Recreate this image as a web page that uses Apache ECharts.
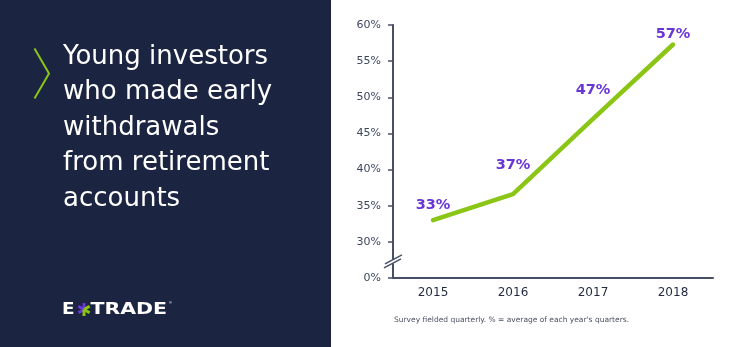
<!DOCTYPE html>
<html>
<head>
<meta charset="utf-8">
<script src="https://cdn.jsdelivr.net/npm/echarts@6/dist/echarts.min.js"></script>
<style>
html,body{margin:0;padding:0;background:#fff;}
#c{width:742px;height:347px;}
</style>
</head>
<body>
<div id="c"></div>
<script>
// ---- data ----
var years = ['2015', '2016', '2017', '2018'];
var withdrawalPct = [33, 36.6, 47, 57.3];
var yTickValues = [25, 30, 35, 40, 45, 50, 55, 60];
var yTickLabels = ['0%', '30%', '35%', '40%', '45%', '50%', '55%', '60%'];
var titleLines = ['Young investors', 'who made early', 'withdrawals', 'from retirement', 'accounts'];
var footnote = "Survey fielded quarterly. % = average of each year's quarters.";

// ---- styles ----
var NAVY = '#1b2440';
var GREEN = '#8bc516';
var PURPLE = '#6a35d6';
var AXIS = '#474f66';
var labelDistances = [7, 21, 21, 2];

var chart = echarts.init(document.getElementById('c'), null, {renderer: 'canvas'});

var seriesData = withdrawalPct.map(function (v, i) {
  return {value: v, label: {distance: labelDistances[i]}};
});

var option = {
  animation: false,
  backgroundColor: '#ffffff',
  grid: {left: 393, right: 29, top: 25, bottom: 69},
  xAxis: {
    type: 'category',
    data: years,
    boundaryGap: true,
    axisLine: {lineStyle: {color: AXIS, width: 2}},
    axisTick: {alignWithLabel: true, length: 5, lineStyle: {color: AXIS, width: 1.5}},
    axisLabel: {color: '#1f2940', fontFamily: 'DejaVu Sans', fontSize: 12, margin: 9}
  },
  yAxis: {
    type: 'value',
    min: yTickValues[0],
    max: yTickValues[yTickValues.length - 1],
    interval: 5,
    splitLine: {show: false},
    axisLine: {show: true, lineStyle: {color: AXIS, width: 2}},
    axisTick: {show: true, length: 5, lineStyle: {color: AXIS, width: 1.5}},
    axisLabel: {
      color: '#3e475e', fontFamily: 'DejaVu Sans', fontSize: 11, margin: 12,
      formatter: function (v) {
        var i = yTickValues.indexOf(v);
        return i >= 0 ? yTickLabels[i] : '';
      }
    }
  },
  series: [{
    type: 'line',
    data: seriesData,
    symbol: 'circle',
    symbolSize: 1,
    showSymbol: true,
    itemStyle: {color: 'rgba(0,0,0,0)'},
    lineStyle: {color: GREEN, width: 4.5, cap: 'round', join: 'round'},
    label: {
      show: true,
      position: 'top',
      color: PURPLE,
      fontFamily: 'DejaVu Sans',
      fontWeight: 'bold',
      fontSize: 14.5,
      formatter: function (p) { return Math.round(p.value) + '%'; }
    },
    z: 3
  }],
  graphic: []
};
chart.setOption(option);

// left panel + decorations
var g = [];
g.push({type: 'rect', id: 'panel', z: -10, shape: {x: 0, y: 0, width: 331, height: 347}, style: {fill: NAVY}, silent: true});
g.push({type: 'polyline', id: 'chev', z: 1, shape: {points: [[34.5, 48.5], [49, 73.5], [34.5, 98.5]]}, style: {stroke: GREEN, lineWidth: 2, fill: null}});
titleLines.forEach(function (t, i) {
  g.push({type: 'text', id: 'title' + i, z: 1, x: 63, y: 57 + i * 35.5,
    style: {text: t, fill: '#ffffff', font: '26px "DejaVu Sans"', verticalAlign: 'middle', align: 'left'}});
});
// logo
g.push({type: 'text', id: 'logoE', z: 1, x: 62, y: 309.5, scaleX: 1.15,
  style: {text: 'E', fill: '#ffffff', font: 'bold 16px "DejaVu Sans"', verticalAlign: 'middle', align: 'left'}});
g.push({type: 'text', id: 'logoT', z: 1, x: 90.5, y: 309.5, scaleX: 1.28,
  style: {text: 'TRADE', fill: '#ffffff', font: 'bold 16px "DejaVu Sans"', verticalAlign: 'middle', align: 'left'}});
(function () {
  var cx = 84, cy = 309.5, r = 6.5;
  var arms = [[-90, PURPLE], [150, PURPLE], [210, PURPLE], [90, GREEN], [-30, GREEN], [30, GREEN]];
  arms.forEach(function (a, i) {
    var rad = a[0] * Math.PI / 180;
    g.push({type: 'line', id: 'ast' + i, z: 2, shape: {x1: cx, y1: cy, x2: cx + r * Math.cos(rad), y2: cy + r * Math.sin(rad)},
      style: {stroke: a[1], lineWidth: 3, lineCap: 'butt'}});
  });
})();
g.push({type: 'text', id: 'regmark', z: 1, x: 169, y: 303, style: {text: '®', fill: '#ffffff', font: '4px sans-serif', verticalAlign: 'middle'}});
// footnote
g.push({type: 'text', id: 'foot', z: 1, x: 394, y: 320.5,
  style: {text: footnote, fill: '#4a5163', font: '7.5px "DejaVu Sans"', verticalAlign: 'middle', align: 'left'}});

// axis break marks between 0% and 30%
var bp = chart.convertToPixel({gridIndex: 0}, [0, 27.5]);
var axX = chart.getModel().getComponent('grid').coordinateSystem.getRect().x;
var by = bp[1];
g.push({type: 'polygon', id: 'brkMask', z: 5, shape: {points: [[axX - 4, by + 1.5], [axX + 4, by - 2.5], [axX + 4, by + 1.5], [axX - 4, by + 5.5]]}, style: {fill: '#ffffff'}});
g.push({type: 'line', id: 'brk1', z: 6, shape: {x1: axX - 8, y1: by + 4, x2: axX + 9, y2: by - 5}, style: {stroke: AXIS, lineWidth: 1.5}});
g.push({type: 'line', id: 'brk2', z: 6, shape: {x1: axX - 9, y1: by + 8, x2: axX + 8, y2: by - 1}, style: {stroke: AXIS, lineWidth: 1.5}});

chart.setOption({graphic: g});
</script>
</body>
</html>
